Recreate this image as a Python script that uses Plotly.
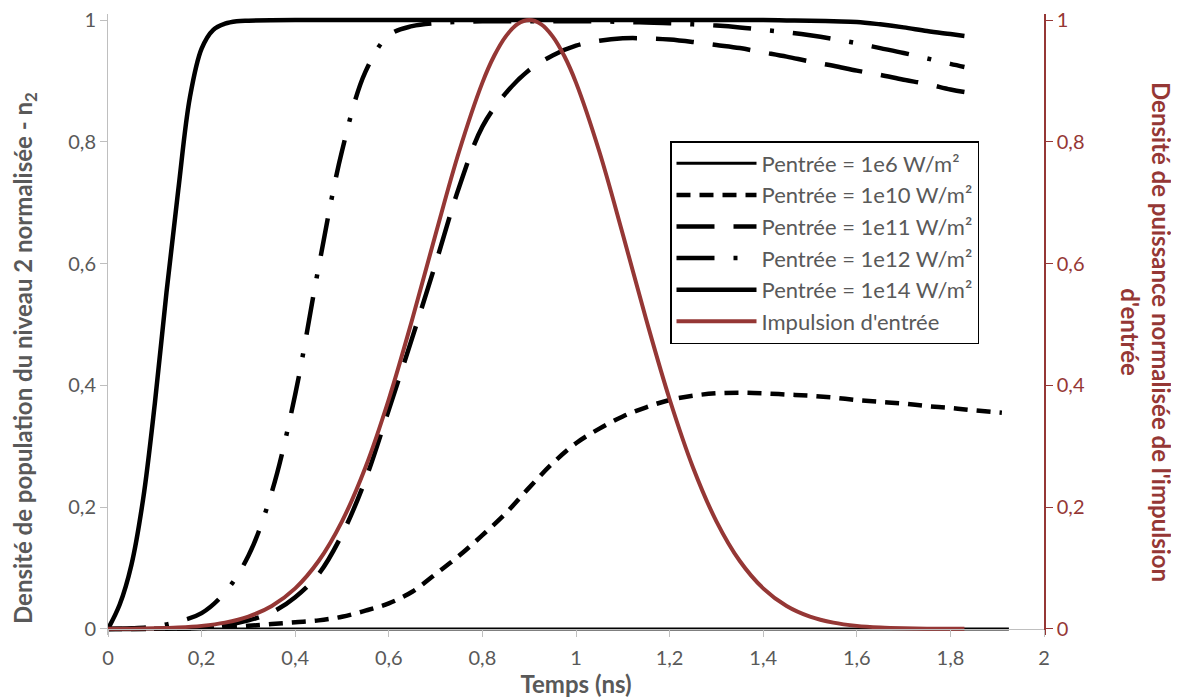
import plotly.graph_objects as go

# ---------------- data ----------------
t_1e6 = [0, 1.925]
n_1e6 = [0, 0]

t_1e10 = [0, 0.05, 0.1, 0.15, 0.2, 0.25, 0.3, 0.35, 0.4, 0.45, 0.5, 0.55, 0.6, 0.65,
          0.7, 0.75, 0.8, 0.85, 0.9, 0.95, 1.0, 1.05, 1.1, 1.15, 1.2, 1.25, 1.3, 1.35,
          1.4, 1.45, 1.5, 1.55, 1.6, 1.65, 1.7, 1.75, 1.8, 1.85, 1.91]
n_1e10 = [0, 0, 0.0003, 0.0008, 0.0015, 0.003, 0.005, 0.008, 0.011, 0.014, 0.02, 0.03,
          0.042, 0.061, 0.09, 0.12, 0.154, 0.19, 0.232, 0.272, 0.305, 0.329, 0.349,
          0.364, 0.376, 0.383, 0.387, 0.388, 0.387, 0.385, 0.383, 0.38, 0.376, 0.373,
          0.37, 0.366, 0.363, 0.359, 0.355]

t_1e11 = [0, 0.05, 0.1, 0.15, 0.2, 0.25, 0.3, 0.35, 0.4, 0.45, 0.5, 0.55, 0.6, 0.65,
          0.7, 0.75, 0.8, 0.85, 0.9, 0.95, 1.0, 1.05, 1.1, 1.15, 1.2, 1.25, 1.3, 1.35,
          1.4, 1.45, 1.5, 1.55, 1.6, 1.65, 1.7, 1.75, 1.8, 1.83]
n_1e11 = [0, 0, 0, 0.0005, 0.002, 0.006, 0.014, 0.027, 0.052, 0.09, 0.155, 0.245, 0.36,
          0.478, 0.6, 0.725, 0.825, 0.88, 0.918, 0.942, 0.958, 0.966, 0.97, 0.97, 0.968,
          0.964, 0.959, 0.954, 0.947, 0.94, 0.932, 0.925, 0.917, 0.91, 0.902, 0.895,
          0.886, 0.882]

t_1e12 = [0, 0.05, 0.1, 0.15, 0.2, 0.25, 0.3, 0.35, 0.4, 0.45, 0.5, 0.55, 0.6, 0.65,
          0.7, 0.75, 0.8, 0.85, 0.9, 0.95, 1.0, 1.05, 1.1, 1.15, 1.2, 1.25, 1.3, 1.35,
          1.4, 1.45, 1.5, 1.55, 1.6, 1.65, 1.7, 1.75, 1.8, 1.83]
n_1e12 = [0, 0.001, 0.004, 0.012, 0.026, 0.06, 0.12, 0.225, 0.385, 0.594, 0.785, 0.915,
          0.975, 0.99, 0.995, 0.997, 0.998, 0.998, 0.998, 0.998, 0.998, 0.998, 0.997,
          0.996, 0.995, 0.993, 0.991, 0.988, 0.984, 0.98, 0.975, 0.969, 0.962, 0.954,
          0.946, 0.937, 0.928, 0.923]

t_1e14 = [0, 0.025, 0.05, 0.075, 0.1, 0.125, 0.15, 0.175, 0.2, 0.225, 0.25, 0.275, 0.3,
          0.4, 0.5, 0.6, 0.7, 0.8, 0.9, 1.0, 1.1, 1.2, 1.3, 1.4, 1.45, 1.5, 1.55, 1.6,
          1.65, 1.7, 1.75, 1.8, 1.83]
n_1e14 = [0, 0.04, 0.105, 0.213, 0.37, 0.553, 0.72, 0.873, 0.953, 0.984, 0.994, 0.998,
          0.999, 1.0, 1.0, 1.0, 1.0, 1.0, 1.0, 1.0, 1.0, 1.0, 1.0, 1.0, 0.9995, 0.999,
          0.998, 0.997, 0.993, 0.988, 0.982, 0.977, 0.974]

t_pulse = [0, 0.05, 0.1, 0.15, 0.2, 0.25, 0.3, 0.35, 0.4, 0.45, 0.5, 0.55, 0.6, 0.65,
           0.7, 0.75, 0.8, 0.825, 0.85, 0.875, 0.9, 0.925, 0.95, 0.975, 1.0, 1.05, 1.1,
           1.15, 1.2, 1.25, 1.3, 1.35, 1.4, 1.45, 1.5, 1.55, 1.6, 1.65, 1.7, 1.75, 1.8,
           1.83]
p_pulse = [0.0002, 0.0004, 0.001, 0.0023, 0.005, 0.0103, 0.0202, 0.0377, 0.0666, 0.1115,
           0.1767, 0.2652, 0.3772, 0.5081, 0.6483, 0.7837, 0.8973, 0.941, 0.9733, 0.9933,
           1.0, 0.9933, 0.9733, 0.941, 0.8973, 0.7837, 0.6483, 0.5081, 0.3772, 0.2652,
           0.1767, 0.1115, 0.0666, 0.0377, 0.0202, 0.0103, 0.005, 0.0023, 0.001, 0.0004,
           0.0002, 0.0001]

series_names = ["Pentrée = 1e6 W/m²", "Pentrée = 1e10 W/m²", "Pentrée = 1e11 W/m²",
                "Pentrée = 1e12 W/m²", "Pentrée = 1e14 W/m²", "Impulsion d'entrée"]

x_ticks = [0, 0.2, 0.4, 0.6, 0.8, 1, 1.2, 1.4, 1.6, 1.8, 2]
y_ticks = [0, 0.2, 0.4, 0.6, 0.8, 1]

# ---------------- styles / layout geometry ----------------
RED = "#953735"
GREY_TXT = "#595959"
GREY_AX = "#bfbfbf"
FONT = "Lato"

OFF = 8                      # page body margin of the browser
W, H = 1179 - OFF, 699 - OFF
PAD = 0.01                   # small padding of the value range so lines at 0/1 are not clipped
# target plot area in window pixels: x 108..1044, value 0 at y=629, value 1 at y=20
L = 108 - OFF
R = 1179 - 1044
T = round(20 - OFF - PAD * 609)
B = round(699 - 629 - PAD * 609)
PW, PH = W - L - R, H - T - B


def px_x(px):
    return (px - OFF - L) / PW


def px_y(py):
    return 1 - (py - OFF - T) / PH


fig = go.Figure()

styles = [
    (t_1e6, n_1e6, dict(color="black", width=3, dash="solid")),
    (t_1e10, n_1e10, dict(color="black", width=4.5, dash="14px,9px")),
    (t_1e11, n_1e11, dict(color="black", width=4.5, dash="38px,19px")),
    (t_1e12, n_1e12, dict(color="black", width=4.5, dash="38px,19px,4px,19px")),
    (t_1e14, n_1e14, dict(color="black", width=4.5, dash="solid")),
]
for (tx, ny, ln), name in zip(styles, series_names[:5]):
    fig.add_trace(go.Scatter(x=tx, y=ny, mode="lines", name=name,
                             line=dict(shape="spline", smoothing=1.0, **ln),
                             yaxis="y"))

fig.add_trace(go.Scatter(x=t_pulse, y=p_pulse, mode="lines", name=series_names[5],
                         line=dict(color=RED, width=4, shape="spline", smoothing=1.0),
                         yaxis="y2"))

fig.update_layout(
    template="none",
    width=W, height=H,
    margin=dict(l=L, r=R, t=T, b=B, autoexpand=False),
    paper_bgcolor="white", plot_bgcolor="white",
    separators=", ",
    font=dict(family=FONT, size=20, color=GREY_TXT),
    showlegend=True,
    legend=dict(x=px_x(670), y=px_y(141), xanchor="left", yanchor="top",
                bgcolor="white", bordercolor="black", borderwidth=1.5,
                font=dict(family=FONT, size=22, color=GREY_TXT),
                itemwidth=80, tracegroupgap=0),
    xaxis=dict(range=[0, 2], tickvals=x_ticks, showgrid=False, zeroline=False,
               showline=True, linecolor=GREY_AX, linewidth=1,
               ticks="outside", ticklen=7, tickcolor=GREY_AX,
               anchor="free", position=PAD / (1 + 2 * PAD), automargin=False,
               ticklabelstandoff=4, ticklabeloverflow="allow",
               tickfont=dict(family=FONT, size=20, color=GREY_TXT),
               title=dict(text="<b>Temps (ns)</b>", standoff=0,
                          font=dict(family=FONT, size=24, color=GREY_TXT))),
    yaxis=dict(range=[-PAD, 1 + PAD], tickvals=y_ticks, showgrid=False, zeroline=False,
               showline=True, linecolor=GREY_AX, linewidth=1, automargin=False,
               ticks="outside", ticklen=7, tickcolor=GREY_AX,
               ticklabeloverflow="allow",
               tickfont=dict(family=FONT, size=20, color=GREY_TXT)),
    yaxis2=dict(range=[-PAD, 1 + PAD], tickvals=y_ticks, overlaying="y", side="right",
                showgrid=False, zeroline=False, automargin=False,
                showline=True, linecolor=RED, linewidth=1.5,
                ticks="outside", ticklen=7, tickcolor=RED,
                ticklabeloverflow="allow",
                tickfont=dict(family=FONT, size=20, color=RED)),
    annotations=[
        dict(text="<b>Densité de population du niveau 2 normalisée - n<sub>2</sub></b>",
             textangle=-90, xref="paper", yref="paper",
             x=px_x(24), y=px_y(358),
             xanchor="center", yanchor="middle", showarrow=False,
             font=dict(family=FONT, size=24, color=GREY_TXT)),
        dict(text="<b>Densité de puissance normalisée de l'impulsion<br>d'entrée</b>",
             textangle=90, xref="paper", yref="paper",
             x=px_x(1146), y=px_y(332),
             xanchor="center", yanchor="middle", showarrow=False,
             font=dict(family=FONT, size=24, color=RED)),
    ],
)

fig.write_html("out.html")
